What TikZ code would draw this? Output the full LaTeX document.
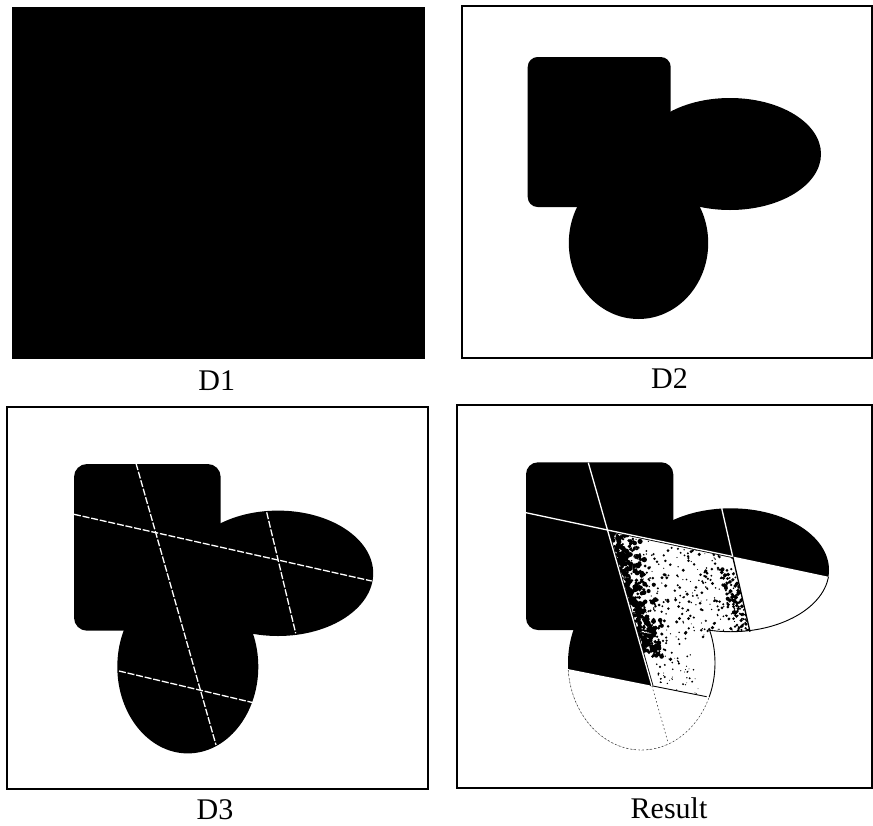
\documentclass[tikz,border=0pt]{standalone}
\usepackage{fontspec}
\setmainfont{Liberation Serif}
\begin{document}
\begin{tikzpicture}[x=1pt,y=-1pt,
  frame/.style={draw=black,line width=1.7pt},
  lbl/.style={font=\fontsize{30}{30}\selectfont,anchor=base,inner sep=0pt},
  cutline/.style={white,line width=1.3pt},
  dcut/.style={white,line width=1.3pt,dash pattern=on 7pt off 1.8pt},
  edgeline/.style={black,line width=0.9pt},
  faint/.style={black!75,line width=0.6pt,dash pattern=on 1.5pt off 2.5pt}]
\useasboundingbox (0,0) rectangle (873,825);

% ---------------- D1
\fill[black] (12,7) rectangle (425,359);
\node[lbl] (d1) at (216.7,390) {D1};

% ---------------- D2
\draw[frame] (461.7,6) rectangle (872,358);
\fill[black,rounded corners=10pt] (527.7,57) rectangle (670.7,207);
\fill[black] (730,154) ellipse[x radius=91,y radius=56];
\fill[black] (638.5,243) ellipse[x radius=69.7,y radius=76];
\node[lbl] (d2) at (669.5,388.3) {D2};

% ---------------- D3
\draw[frame] (7,407) rectangle (428,789);
\fill[black,rounded corners=13pt] (74,464) rectangle (220.7,630.7);
\fill[black] (278,573.3) ellipse[x radius=95.2,y radius=62.7];
\fill[black] (187.8,666.7) ellipse[x radius=70.5,y radius=86.7];
\draw[dcut] (74,514.3) -- (371.7,581);
\draw[dcut] (136,463.3) -- (216,745);
\draw[dcut] (266.7,512.3) -- (295.7,633.3);
\draw[dcut] (119,671) -- (253.3,702.7);
\node[lbl] (d3) at (215,819) {D3};

% ---------------- Result
\draw[frame] (456.7,405) rectangle (872,787.7);
\fill[black,rounded corners=12pt] (526,462.3) rectangle (673.3,630);
\fill[black] (730.8,570) ellipse[x radius=98.2,y radius=61.7];
\fill[black] (641.5,663) ellipse[x radius=73.5,y radius=87];

% speckle dots (computed once)
\gdef\specklepath{}
\pgfmathsetseed{4711}
\foreach \i in {1,...,420}{
  \pgfmathsetmacro\u{0.27*rnd*rnd+0.02}\pgfmathsetmacro\v{0.8*rnd}\pgfmathsetmacro\r{0.7+2.0*rnd}
  \pgfmathsetmacro\px{(1-\v)*((1-\u)*607.5+\u*732.7)+\v*((1-\u)*651.9+\u*767.5)}
  \pgfmathsetmacro\py{(1-\v)*((1-\u)*530+\u*556.5)+\v*((1-\u)*685.8+\u*707.4)}
  \xdef\specklepath{\specklepath (\px,\py) circle[radius=\r]}
}
\foreach \i in {1,...,300}{
  \pgfmathsetmacro\u{rnd}\pgfmathsetmacro\v{0.6*rnd}\pgfmathsetmacro\r{0.5+1.3*rnd}
  \pgfmathsetmacro\px{(1-\v)*((1-\u)*607.5+\u*732.7)+\v*((1-\u)*651.9+\u*767.5)}
  \pgfmathsetmacro\py{(1-\v)*((1-\u)*530+\u*556.5)+\v*((1-\u)*685.8+\u*707.4)}
  \xdef\specklepath{\specklepath (\px,\py) circle[radius=\r]}
}
\foreach \i in {1,...,150}{
  \pgfmathsetmacro\u{0.86+0.14*rnd}\pgfmathsetmacro\v{0.1+0.52*rnd}\pgfmathsetmacro\r{0.6+1.5*rnd}
  \pgfmathsetmacro\px{(1-\v)*((1-\u)*607.5+\u*732.7)+\v*((1-\u)*651.9+\u*767.5)}
  \pgfmathsetmacro\py{(1-\v)*((1-\u)*530+\u*556.5)+\v*((1-\u)*685.8+\u*707.4)}
  \xdef\specklepath{\specklepath (\px,\py) circle[radius=\r]}
}
\foreach \i in {1,...,70}{
  \pgfmathsetmacro\u{0.08+0.35*rnd}\pgfmathsetmacro\v{0.6+0.4*rnd}\pgfmathsetmacro\r{0.4+0.8*rnd}
  \pgfmathsetmacro\px{(1-\v)*((1-\u)*607.5+\u*732.7)+\v*((1-\u)*651.9+\u*767.5)}
  \pgfmathsetmacro\py{(1-\v)*((1-\u)*530+\u*556.5)+\v*((1-\u)*685.8+\u*707.4)}
  \xdef\specklepath{\specklepath (\px,\py) circle[radius=\r]}
}

\def\resultregions{%
  \fill[white] (607.5,530) -- (900,591.9) -- (900,800) -- (684.5,800) -- cycle;
  \fill[white] (540,663.5) -- (900,735.2) -- (900,800) -- (540,800) -- cycle;
  \begin{scope}
    \clip (607.5,530) -- (732.7,556.5) -- (767.5,707.4) -- (651.9,685.8) -- cycle;
    \fill[black] \specklepath;
  \end{scope}}
\begin{scope}
  \clip[rounded corners=12pt] (526,462.3) rectangle (673.3,630);
  \resultregions
\end{scope}
\begin{scope}
  \clip (730.8,570) ellipse[x radius=98.2,y radius=61.7];
  \resultregions
\end{scope}
\begin{scope}
  \clip (641.5,663) ellipse[x radius=73.5,y radius=87];
  \resultregions
\end{scope}

% outlines of the white parts
\begin{scope}
  \clip (710,551.6) -- (900,591.9) -- (900,800) -- (710,800) -- cycle;
  \draw[edgeline] (730.8,570) ellipse[x radius=98.2,y radius=61.7];
\end{scope}
\begin{scope}
  \clip (690,629) -- (900,629) -- (900,735.2) -- (690,693.4) -- cycle;
  \draw[edgeline] (641.5,663) ellipse[x radius=73.5,y radius=87];
\end{scope}
\begin{scope}
  \clip (540,663.5) -- (900,735.2) -- (900,800) -- (540,800) -- cycle;
  \draw[faint] (641.5,663) ellipse[x radius=73.5,y radius=87];
\end{scope}
\draw[edgeline] (651.9,685.8) -- (706.7,696.7);
\draw[black,line width=1.3pt] (732.7,556.5) -- (750,631.7);
\draw[faint] (651.9,685.8) -- (668.3,743.3);

% dark rim below the white cut lines of the speckled part
\draw[black,line width=3pt] (607.5,530) -- (732.7,556.5);
\draw[black,line width=3pt] (607.5,530) -- (651.9,685.8);

% white cut lines
\draw[cutline] (526,512.7) -- (607.5,530) -- (732.7,556.5);
\draw[cutline] (588.3,462.7) -- (651.9,685.8);
\draw[cutline] (721.7,508.3) -- (732.7,556.5);
\node[lbl] (res) at (669,818) {Result};
\end{tikzpicture}
\end{document}
